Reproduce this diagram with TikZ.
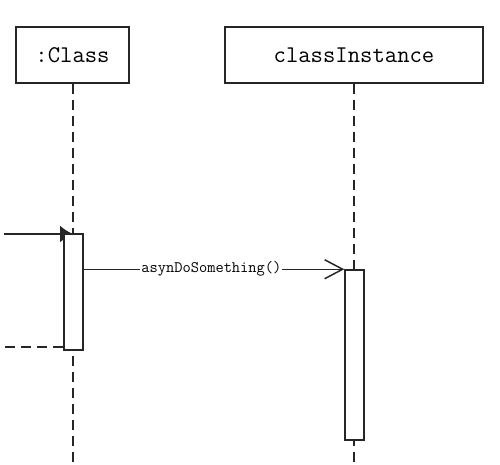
\documentclass[tikz,border=0pt]{standalone}
\usepackage{tikz}
\usetikzlibrary{arrows.meta}

\tikzset{
	object/.style={draw, line width=1.5pt, fill=white, minimum height=56pt,
		font=\ttfamily\fontsize{24}{28}\selectfont},
	activation/.style={draw, line width=1.5pt, fill=white, minimum width=19pt, inner sep=0pt},
	lifeline/.style={line width=1.5pt, dash pattern=on 10pt off 6pt},
	msglabel/.style={fill=white, inner sep=1pt, text=black, font=\ttfamily\fontsize{16}{18}\selectfont}
}

\begin{document}
\begin{tikzpicture}[x=1pt,y=1pt,color={black!85}]
		\useasboundingbox (0,0) rectangle (500,464);
%		\draw[help lines] (0,0) grid (500,464);
		\path (73,0) coordinate (class_end);
		\path (354,0) coordinate (inst_end);
		\path (4,230) coordinate (call_left);
		\path (73,230) coordinate (call_right);
		\path (0,117) coordinate (ret_left);

		\node[object, minimum width=113pt, text=black] (class) at (72.5,409) {:Class};
		\node[object, minimum width=258pt, text=black] (inst) at (354,409) {classInstance};

		\draw[lifeline] (class.south -| class_end) -- (class_end);
		\draw[lifeline] (inst.south -| inst_end) -- (inst_end);

		\draw[line width=1.5pt,-{Latex[length=13pt,width=17pt]}] (call_left) -- (call_right);

		\node[activation, minimum height=116pt] (act_class) at (73.5,172) {};
		\node[activation, minimum height=170pt] (act_inst) at (354.5,109) {};

		\draw[line width=1.5pt,-{Straight Barb[length=18pt,width=19pt,line width=1.5pt]}]
			(act_class.east |- act_inst.north) -- (act_inst.north west)
			node[msglabel, pos=0.49] {asynDoSomething()};
		\draw[lifeline] (act_class.south west |- ret_left) -- (ret_left);
	\end{tikzpicture}
\end{document}
